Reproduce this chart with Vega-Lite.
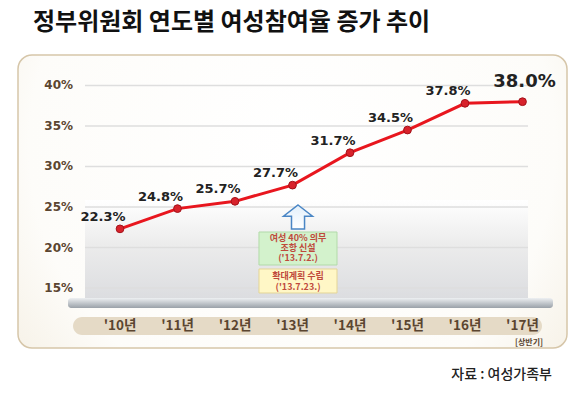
{
  "$schema": "https://vega.github.io/schema/vega-lite/v6.json",
  "width": 549,
  "height": 293,
  "autosize": {"type": "none"},
  "padding": {"left": 18, "top": 55, "right": 18, "bottom": 55},
  "background": "white",
  "config": {
    "view": {
      "fill": {"gradient": "radial", "x1": 0.5, "y1": 0.4, "r1": 0, "x2": 0.5, "y2": 0.4, "r2": 0.8,
        "stops": [{"offset": 0, "color": "#ffffff"}, {"offset": 0.6, "color": "#fdfcf9"}, {"offset": 1, "color": "#efe6d3"}]},
      "stroke": "#d6c6a9",
      "strokeWidth": 1.5,
      "cornerRadius": 14
    }
  },
  "title": {
    "text": "정부위원회 연도별 여성참여율 증가 추이",
    "anchor": "start",
    "frame": "group",
    "dx": 15,
    "offset": 20,
    "font": "Noto Sans CJK KR",
    "fontSize": 24,
    "fontWeight": "bold",
    "color": "#111111"
  },
  "datasets": {
    "rates": [
      {"year": 2010, "label": "'10년", "rate": 22.3, "rateLabel": "22.3%"},
      {"year": 2011, "label": "'11년", "rate": 24.8, "rateLabel": "24.8%"},
      {"year": 2012, "label": "'12년", "rate": 25.7, "rateLabel": "25.7%"},
      {"year": 2013, "label": "'13년", "rate": 27.7, "rateLabel": "27.7%"},
      {"year": 2014, "label": "'14년", "rate": 31.7, "rateLabel": "31.7%"},
      {"year": 2015, "label": "'15년", "rate": 34.5, "rateLabel": "34.5%"},
      {"year": 2016, "label": "'16년", "rate": 37.8, "rateLabel": "37.8%"},
      {"year": 2017, "label": "'17년", "rate": 38.0, "rateLabel": "38.0%"}
    ],
    "ticks": [
      {"v": 15, "tickLabel": "15%"}, {"v": 20, "tickLabel": "20%"}, {"v": 25, "tickLabel": "25%"},
      {"v": 30, "tickLabel": "30%"}, {"v": 35, "tickLabel": "35%"}, {"v": 40, "tickLabel": "40%"}
    ]
  },
  "layer": [
    {
      "data": {"values": [{"part": "wall"}]},
      "mark": {"type": "rect",
        "color": {"gradient": "linear", "x1": 0, "y1": 0, "x2": 0, "y2": 1,
          "stops": [{"offset": 0, "color": "#ffffff"}, {"offset": 0.45, "color": "#ececec"}, {"offset": 1, "color": "#dcdde0"}]}},
      "encoding": {
        "x": {"datum": 2009.391, "type": "quantitative", "scale": {"domain": [2008.226, 2017.774], "nice": false, "zero": false}, "axis": null},
        "x2": {"datum": 2017.096},
        "y": {"datum": 25.864, "type": "quantitative", "scale": {"domain": [7.593, 43.765], "nice": false, "zero": false}, "axis": null},
        "y2": {"datum": 13.765}
      }
    },
    {
      "data": {"name": "ticks"},
      "mark": {"type": "rule", "color": "#dedede", "strokeWidth": 1.5},
      "encoding": {
        "y": {"field": "v", "type": "quantitative", "scale": {"domain": [7.593, 43.765], "nice": false, "zero": false}, "axis": null},
        "x": {"datum": 2009.391, "type": "quantitative", "scale": {"domain": [2008.226, 2017.774], "nice": false, "zero": false}, "axis": null},
        "x2": {"datum": 2017.096}
      }
    },
    {
      "data": {"name": "ticks"},
      "mark": {"type": "text", "font": "DejaVu Sans", "fontWeight": "bold", "fontSize": 12, "color": "#5b4530", "baseline": "middle", "align": "right"},
      "encoding": {
        "y": {"field": "v", "type": "quantitative", "scale": {"domain": [7.593, 43.765], "nice": false, "zero": false}, "axis": null},
        "x": {"datum": 2009.183, "type": "quantitative", "scale": {"domain": [2008.226, 2017.774], "nice": false, "zero": false}, "axis": null},
        "text": {"field": "tickLabel"}
      }
    },
    {
      "data": {"values": [{"part": "floor"}]},
      "mark": {"type": "rect", "cornerRadius": 3,
        "color": {"gradient": "linear", "x1": 0, "y1": 0, "x2": 0, "y2": 1,
          "stops": [{"offset": 0, "color": "#eef0f2"}, {"offset": 0.5, "color": "#c3c8cd"}, {"offset": 1, "color": "#9aa1a8"}]}},
      "encoding": {
        "x": {"datum": 2009.096, "type": "quantitative", "scale": {"domain": [2008.226, 2017.774], "nice": false, "zero": false}, "axis": null},
        "x2": {"datum": 2017.53},
        "y": {"datum": 13.765, "type": "quantitative", "scale": {"domain": [7.593, 43.765], "nice": false, "zero": false}, "axis": null},
        "y2": {"datum": 12.531}
      }
    },
    {
      "data": {"values": [{"part": "pill"}]},
      "mark": {"type": "rect", "cornerRadius": 9, "color": "#e5dac6"},
      "encoding": {
        "x": {"datum": 2009.183, "type": "quantitative", "scale": {"domain": [2008.226, 2017.774], "nice": false, "zero": false}, "axis": null},
        "x2": {"datum": 2017.339},
        "y": {"datum": 11.42, "type": "quantitative", "scale": {"domain": [7.593, 43.765], "nice": false, "zero": false}, "axis": null},
        "y2": {"datum": 9.198}
      }
    },
    {
      "data": {"name": "rates"},
      "mark": {"type": "text", "font": "Noto Sans CJK KR", "fontWeight": "bold", "fontSize": 13.5, "color": "#5b4530", "baseline": "middle", "align": "center"},
      "encoding": {
        "x": {"field": "year", "type": "quantitative", "scale": {"domain": [2008.226, 2017.774], "nice": false, "zero": false}, "axis": null},
        "y": {"datum": 10.309, "type": "quantitative", "scale": {"domain": [7.593, 43.765], "nice": false, "zero": false}, "axis": null},
        "text": {"field": "label"}
      }
    },
    {
      "data": {"values": [{"note": "[상반기]"}]},
      "mark": {"type": "text", "font": "Noto Sans CJK KR", "fontWeight": "bold", "fontSize": 8, "color": "#5b4530", "baseline": "middle", "align": "center"},
      "encoding": {
        "x": {"datum": 2017.113, "type": "quantitative", "scale": {"domain": [2008.226, 2017.774], "nice": false, "zero": false}, "axis": null},
        "y": {"datum": 8.21, "type": "quantitative", "scale": {"domain": [7.593, 43.765], "nice": false, "zero": false}, "axis": null},
        "text": {"field": "note"}
      }
    },
    {
      "data": {"values": [{"part": "arrow"}]},
      "mark": {"type": "point", "filled": true, "size": 841,
        "shape": "M0,-0.83 L1,-0.05 L0.45,-0.05 L0.45,0.83 L-0.45,0.83 L-0.45,-0.05 L-1,-0.05 Z",
        "fill": {"gradient": "linear", "x1": 0, "y1": 0, "x2": 0, "y2": 1,
          "stops": [{"offset": 0, "color": "#e3f0fb"}, {"offset": 1, "color": "#ffffff"}]},
        "stroke": "#4a86c5", "strokeWidth": 1.5, "opacity": 1},
      "encoding": {
        "x": {"datum": 2013.096, "type": "quantitative", "scale": {"domain": [2008.226, 2017.774], "nice": false, "zero": false}, "axis": null},
        "y": {"datum": 23.765, "type": "quantitative", "scale": {"domain": [7.593, 43.765], "nice": false, "zero": false}, "axis": null}
      }
    },
    {
      "data": {"values": [{"part": "box1"}]},
      "mark": {"type": "rect", "color": "#d3f2cc", "stroke": "#b2dba9", "strokeWidth": 1},
      "encoding": {
        "x": {"datum": 2012.417, "type": "quantitative", "scale": {"domain": [2008.226, 2017.774], "nice": false, "zero": false}, "axis": null},
        "x2": {"datum": 2013.774},
        "y": {"datum": 21.914, "type": "quantitative", "scale": {"domain": [7.593, 43.765], "nice": false, "zero": false}, "axis": null},
        "y2": {"datum": 17.84}
      }
    },
    {
      "data": {"values": [{"part": "box2"}]},
      "mark": {"type": "rect", "color": "#fff7c6", "stroke": "#e4d597", "strokeWidth": 1},
      "encoding": {
        "x": {"datum": 2012.417, "type": "quantitative", "scale": {"domain": [2008.226, 2017.774], "nice": false, "zero": false}, "axis": null},
        "x2": {"datum": 2013.774},
        "y": {"datum": 17.346, "type": "quantitative", "scale": {"domain": [7.593, 43.765], "nice": false, "zero": false}, "axis": null},
        "y2": {"datum": 14.383}
      }
    },
    {
      "data": {"values": [{"lines": ["여성 40% 의무", "조항 신설", "('13.7.2.)"]}]},
      "mark": {"type": "text", "font": "Noto Sans CJK KR", "fontWeight": "bold", "fontSize": 9, "lineHeight": 10, "color": "#bf4a3c", "baseline": "top", "align": "center"},
      "encoding": {
        "x": {"datum": 2013.096, "type": "quantitative", "scale": {"domain": [2008.226, 2017.774], "nice": false, "zero": false}, "axis": null},
        "y": {"datum": 21.66, "type": "quantitative", "scale": {"domain": [7.593, 43.765], "nice": false, "zero": false}, "axis": null},
        "text": {"field": "lines"}
      }
    },
    {
      "data": {"values": [{"lines": ["확대계획 수립", "('13.7.23.)"]}]},
      "mark": {"type": "text", "font": "Noto Sans CJK KR", "fontWeight": "bold", "fontSize": 9, "lineHeight": 11, "color": "#bf4a3c", "baseline": "top", "align": "center"},
      "encoding": {
        "x": {"datum": 2013.096, "type": "quantitative", "scale": {"domain": [2008.226, 2017.774], "nice": false, "zero": false}, "axis": null},
        "y": {"datum": 17.0, "type": "quantitative", "scale": {"domain": [7.593, 43.765], "nice": false, "zero": false}, "axis": null},
        "text": {"field": "lines"}
      }
    },
    {
      "data": {"name": "rates"},
      "mark": {"type": "line", "color": "#e8161e", "strokeWidth": 3},
      "encoding": {
        "x": {"field": "year", "type": "quantitative", "scale": {"domain": [2008.226, 2017.774], "nice": false, "zero": false}, "axis": null},
        "y": {"field": "rate", "type": "quantitative", "scale": {"domain": [7.593, 43.765], "nice": false, "zero": false}, "axis": null}
      }
    },
    {
      "data": {"name": "rates"},
      "mark": {"type": "point", "filled": true, "size": 60, "fill": "#d8222b", "stroke": "#a3121a", "strokeWidth": 1, "opacity": 1},
      "encoding": {
        "x": {"field": "year", "type": "quantitative", "scale": {"domain": [2008.226, 2017.774], "nice": false, "zero": false}, "axis": null},
        "y": {"field": "rate", "type": "quantitative", "scale": {"domain": [7.593, 43.765], "nice": false, "zero": false}, "axis": null}
      }
    },
    {
      "data": {"name": "rates"},
      "transform": [{"filter": "datum.year < 2017"}],
      "mark": {"type": "text", "font": "DejaVu Sans", "fontWeight": "bold", "fontSize": 13, "color": "#222222", "baseline": "middle", "align": "center", "dx": -17, "dy": -12},
      "encoding": {
        "x": {"field": "year", "type": "quantitative", "scale": {"domain": [2008.226, 2017.774], "nice": false, "zero": false}, "axis": null},
        "y": {"field": "rate", "type": "quantitative", "scale": {"domain": [7.593, 43.765], "nice": false, "zero": false}, "axis": null},
        "text": {"field": "rateLabel"}
      }
    },
    {
      "data": {"name": "rates"},
      "transform": [{"filter": "datum.year == 2017"}],
      "mark": {"type": "text", "font": "DejaVu Sans", "fontWeight": "bold", "fontSize": 18, "color": "#222222", "baseline": "middle", "align": "center", "dx": 2, "dy": -20},
      "encoding": {
        "x": {"field": "year", "type": "quantitative", "scale": {"domain": [2008.226, 2017.774], "nice": false, "zero": false}, "axis": null},
        "y": {"field": "rate", "type": "quantitative", "scale": {"domain": [7.593, 43.765], "nice": false, "zero": false}, "axis": null},
        "text": {"field": "rateLabel"}
      }
    },
    {
      "data": {"values": [{"source": "자료 : 여성가족부"}]},
      "mark": {"type": "text", "font": "Noto Sans CJK KR", "fontWeight": 500, "fontSize": 14, "color": "#222222", "baseline": "middle", "align": "right"},
      "encoding": {
        "x": {"datum": 2017.513, "type": "quantitative", "scale": {"domain": [2008.226, 2017.774], "nice": false, "zero": false}, "axis": null},
        "y": {"datum": 4.3, "type": "quantitative", "scale": {"domain": [7.593, 43.765], "nice": false, "zero": false}, "axis": null},
        "text": {"field": "source"}
      }
    }
  ]
}
